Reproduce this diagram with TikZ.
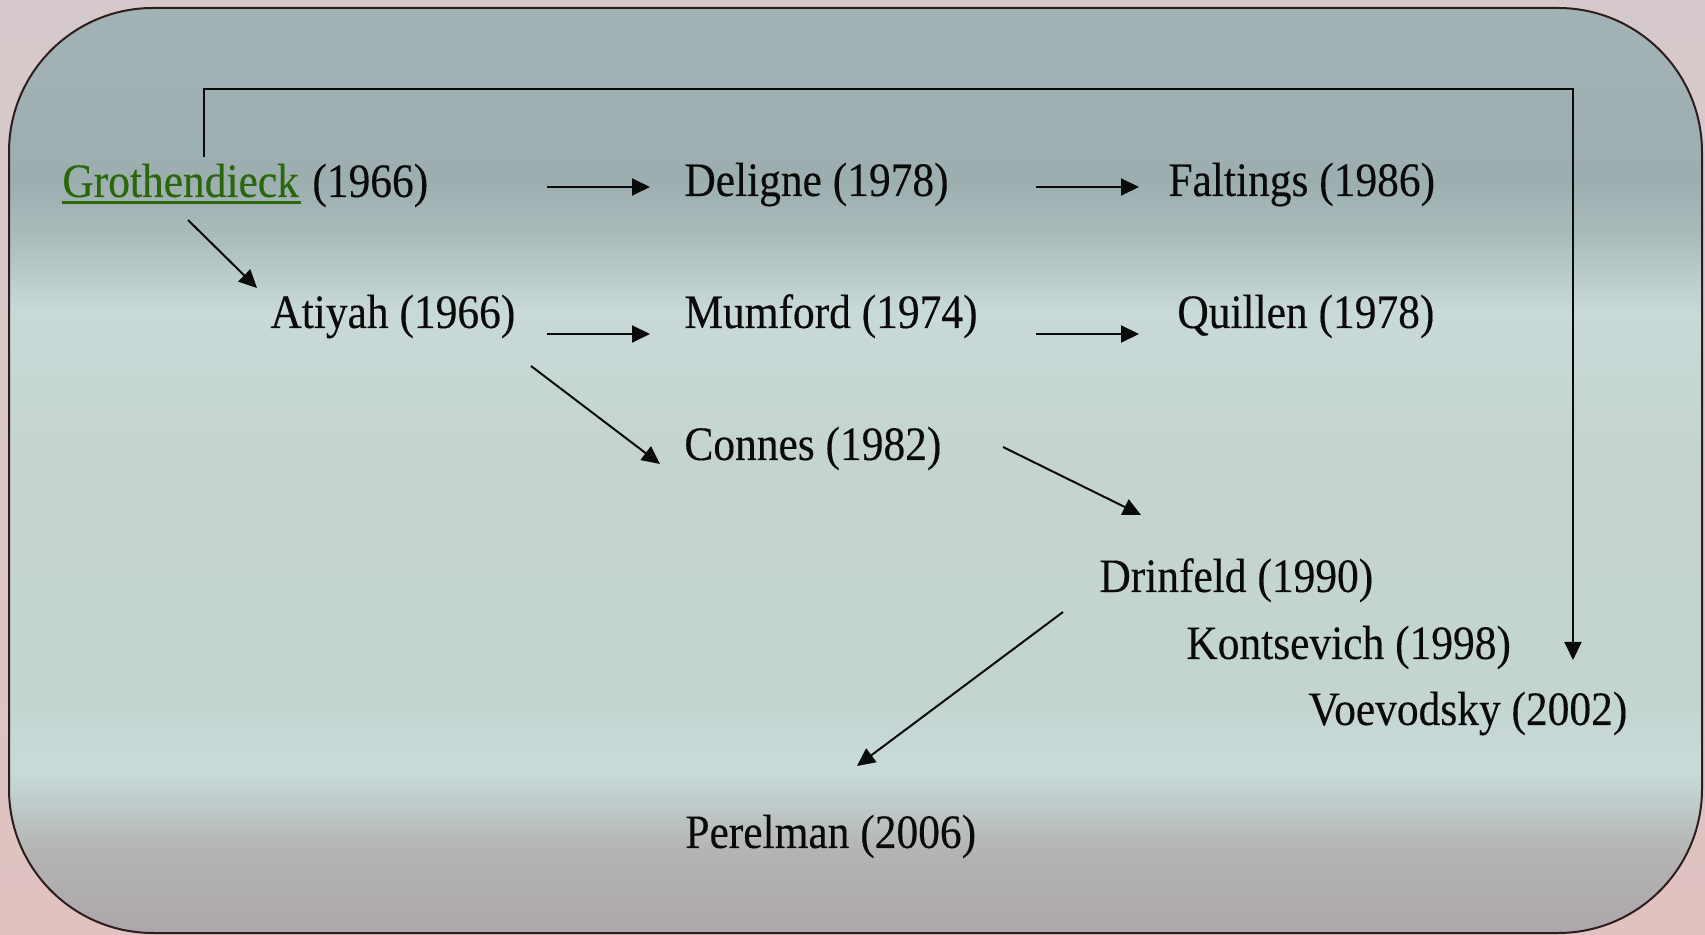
\documentclass[tikz,border=0pt]{standalone}
\usepackage{fontspec}
\setmainfont[FakeStretch=0.905,FakeBold=0.25]{Liberation Serif}
\usetikzlibrary{arrows.meta,calc}

\definecolor{linkgreen}{RGB}{42,102,10}
\definecolor{inkblack}{RGB}{10,10,10}
\definecolor{framebrown}{RGB}{45,30,30}
\definecolor{outtop}{RGB}{214,201,203}
\definecolor{outbot}{RGB}{224,194,192}
\definecolor{skyA}{RGB}{163,178,181}
\definecolor{skyB}{RGB}{157,174,176}
\definecolor{skyC}{RGB}{170,187,188}
\definecolor{skyD}{RGB}{200,217,216}
\definecolor{skyE}{RGB}{197,212,207}
\definecolor{skyF}{RGB}{196,212,208}
\definecolor{skyG}{RGB}{200,219,219}
\definecolor{skyH}{RGB}{180,180,179}
\definecolor{skyI}{RGB}{172,166,168}

\begin{document}
\begin{tikzpicture}[
  x=0.5pt, y=-0.5pt,
  lbl/.style={inner sep=0pt, anchor=base west, text=inkblack,
              font=\fontsize{24pt}{28pt}\selectfont},
  arr/.style={draw=inkblack, line width=1pt,
              -{Triangle[length=9pt,width=8.5pt]}}
]
\useasboundingbox (0,0) rectangle (1705,935);

% surrounding backdrop
\shade[top color=outtop, bottom color=outbot] (0,0) rectangle (1705,935);

% sky-like panel inside the rounded frame
\begin{scope}
  \clip[rounded corners=72pt] (9,8) rectangle (1702,933);
  \shade[top color=skyA, bottom color=skyB] (0,0)   rectangle (1705,181);
  \shade[top color=skyB, bottom color=skyC] (0,180) rectangle (1705,236);
  \shade[top color=skyC, bottom color=skyD] (0,235) rectangle (1705,311);
  \shade[top color=skyD, bottom color=skyE] (0,310) rectangle (1705,451);
  \shade[top color=skyE, bottom color=skyF] (0,450) rectangle (1705,701);
  \shade[top color=skyF, bottom color=skyG] (0,700) rectangle (1705,771);
  \shade[top color=skyG, bottom color=skyH] (0,770) rectangle (1705,851);
  \shade[top color=skyH, bottom color=skyI] (0,850) rectangle (1705,935);
\end{scope}
\draw[framebrown, line width=1pt, rounded corners=72pt] (9,8) rectangle (1702,933);

% names and years
\node[lbl, text=linkgreen] (gname) at (62,197) {Grothendieck};
\node[lbl] (gyear)      at (312,197)  {(1966)};
\node[lbl] (atiyah)     at (270,328)  {Atiyah (1966)};
\node[lbl] (deligne)    at (684,196)  {Deligne (1978)};
\node[lbl] (faltings)   at (1168,196) {Faltings (1986)};
\node[lbl] (mumford)    at (684,328)  {Mumford (1974)};
\node[lbl] (quillen)    at (1177,328) {Quillen (1978)};
\node[lbl] (connes)     at (684,460)  {Connes (1982)};
\node[lbl] (drinfeld)   at (1099,592) {Drinfeld (1990)};
\node[lbl] (kontsevich) at (1186,659) {Kontsevich (1998)};
\node[lbl] (voevodsky)  at (1308,725) {Voevodsky (2002)};
\node[lbl] (perelman)   at (685,848)  {Perelman (2006)};

% link underline
\draw[linkgreen, line width=1.5pt]
  ($(gname.base west)+(0,5.5)$) -- ($(gname.base east)+(2,5.5)$);

% connectors
\draw[arr] ($(gname.base west)+(126,23)$) -- ($(atiyah.base west)+(-13,-40)$);
\draw[arr] ($(gname.base west)+(142,-40)$)
           |- ($(voevodsky.base west)+(265,-636)$)
           -- ($(voevodsky.base west)+(265,-65)$);
\draw[arr] ($(gname.base west)+(485,-10)$) -- ($(deligne.base west)+(-34,-9)$);
\draw[arr] ($(deligne.base west)+(352,-9)$) -- ($(faltings.base west)+(-29,-9)$);
\draw[arr] ($(atiyah.base west)+(277,6)$) -- ($(mumford.base west)+(-34,6)$);
\draw[arr] ($(mumford.base west)+(352,6)$) -- ($(quillen.base west)+(-38,6)$);
\draw[arr] ($(atiyah.base west)+(261,38)$) -- ($(connes.base west)+(-24,4)$);
\draw[arr] ($(connes.base west)+(319,-13)$) -- ($(drinfeld.base west)+(42,-77)$);
\draw[arr] ($(drinfeld.base west)+(-36,20)$) -- ($(perelman.base west)+(172,-82)$);
\end{tikzpicture}
\end{document}
